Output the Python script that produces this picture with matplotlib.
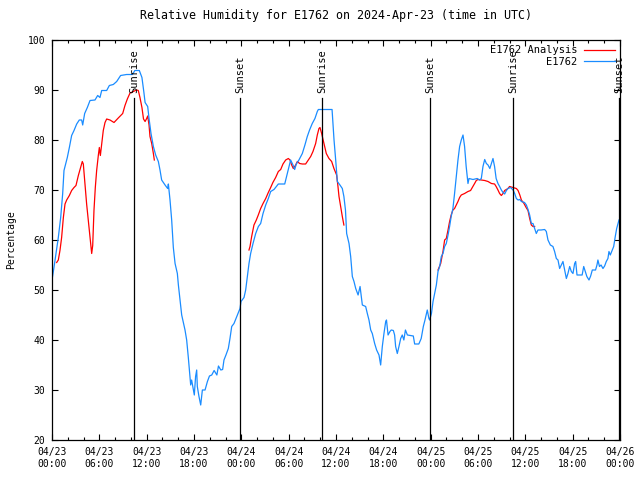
import numpy as np
import matplotlib
matplotlib.use("Agg")
import matplotlib.pyplot as plt

# hours since 2024-04-23 00:00 UTC
obs_hours = [
    0.0, 0.25, 0.5, 0.8, 1.1, 1.35, 1.52, 1.73, 1.94, 2.2, 2.49, 2.79, 3.13, 3.46, 3.76, 3.89,
    4.14, 4.48, 4.82, 5.45, 5.79, 6.08, 6.3, 6.93, 7.27, 7.77, 8.2, 8.7, 9.46, 10.2, 10.5, 11.07,
    11.4, 11.65, 11.8, 12.13, 12.3, 12.55, 12.85, 13.14, 13.48, 13.69, 13.9, 14.33, 14.66, 14.75,
    14.96, 15.17, 15.38, 15.6, 15.89, 16.02, 16.23, 16.44, 16.86, 17.07, 17.28, 17.49, 17.58, 17.7,
    17.92, 18.04, 18.2, 18.34, 18.42, 18.63, 18.85, 19.06, 19.4, 19.7, 19.96, 20.25, 20.55, 20.9,
    21.1, 21.4, 21.63, 21.8, 22.05, 22.35, 22.56, 22.78, 23.07, 23.32, 23.62, 23.83, 23.96, 24.34,
    24.55, 24.76, 24.97, 25.18, 25.48, 25.82, 26.16, 26.45, 26.75, 27.09, 27.42, 27.72, 28.14,
    28.69, 29.5, 29.83, 30.25, 30.55, 30.76, 30.97, 31.3, 31.73, 32.06, 32.36, 32.65, 32.99, 33.33,
    33.63, 33.76, 35.5, 35.75, 35.96, 36.17, 36.5, 36.8, 37.0, 37.2, 37.35, 37.65, 37.86, 38.07,
    38.28, 38.5, 38.8, 39.05, 39.2, 39.34, 39.76, 39.97, 40.18, 40.4, 40.6, 40.9, 41.15, 41.45,
    41.66, 41.87, 42.08, 42.3, 42.4, 42.6, 42.84, 43.0, 43.27, 43.43, 43.56, 43.77, 43.98, 44.2,
    44.4, 44.6, 44.8, 45.05, 45.8, 45.97, 46.5, 46.8, 47.07, 47.28, 47.57, 47.78, 47.87, 48.1,
    48.3, 48.5, 48.72, 48.93, 49.14, 49.35, 49.56, 49.77, 49.98, 50.2, 50.4, 50.6, 50.82, 51.03,
    51.25, 51.46, 51.67, 51.88, 52.1, 52.3, 52.5, 52.73, 52.86, 53.36, 53.9, 54.2, 54.42, 54.63,
    54.85, 55.06, 55.27, 55.5, 55.7, 55.9, 56.1, 56.3, 56.53, 56.74, 56.96, 57.17, 57.38, 57.6,
    57.8, 58.14, 58.44, 58.65, 58.86, 59.08, 59.3, 59.5, 59.9, 60.13, 60.34, 60.55, 60.76, 60.97,
    61.18, 61.39, 61.6, 62.0, 62.45, 62.66, 62.87, 63.17, 63.5, 63.71, 63.93, 64.14, 64.35, 64.56,
    64.77, 64.98, 65.2, 65.4, 65.62, 65.83, 66.04, 66.25, 66.38, 66.55, 67.2, 67.4, 67.6, 67.8,
    68.07, 68.28, 68.49, 68.9, 69.08, 69.2, 69.4, 69.6, 69.84, 70.05, 70.26, 70.47, 70.6, 70.77,
    71.02, 71.2, 71.4, 71.58, 71.75, 71.87,
]
obs_rh = [
    52, 54.5, 57.2, 60.5, 64.5, 69.2, 73.9, 75.2, 76.5, 78.5, 80.9, 81.9, 83.2, 84, 84, 83,
    85.3, 86.5, 87.9, 88, 88.9, 88.5, 89.9, 89.9, 90.9, 91.1, 91.7, 92.9, 93.1, 93.1, 93.9, 93.9,
    92.5, 89.5, 87.5, 86.7, 84.3, 81.3, 78.7, 77, 75.7, 74, 72, 71, 70.3, 71.2,
    68, 64, 58.5, 55.3, 53.3, 51, 48, 45, 42, 40, 36.5, 32.7, 31, 32,
    30, 29, 32.7, 34, 30.7, 28.7, 27, 30, 30, 31.7, 32.8, 33, 33.9, 33,
    34.8, 34, 34.1, 36, 37, 38.3, 40.3, 42.7, 43.3, 44.3, 45.5, 46.3, 47.7, 48.5,
    50, 52.7, 55.3, 57.3, 59.3, 61.3, 62.7, 63.3, 65.3, 67, 68.3, 69.7, 70.1,
    71.2, 71.2, 73.3, 76, 75, 74.1, 75.2, 76, 77.3, 79, 80.7, 82, 83.3, 84.3,
    85.7, 86.1, 86.1, 80, 76, 71.7, 71, 70.3, 68.7, 66, 61.3, 59.3, 56.7, 52.7,
    51.7, 50.3, 49, 50.7, 48.7, 47, 46.7, 45.3, 44, 42, 41.3, 39.3, 38, 37,
    35, 38.7, 41.3, 43.7, 44, 41, 41.7, 42, 41.9, 41, 38.7, 37.3, 38.7, 40.3,
    41, 40, 42, 41, 40.8, 39.2, 39.2, 40.3, 42.7, 44, 46, 44.3, 44, 45.3,
    47.7, 49.3, 51, 53.7, 54.7, 56.7, 57.3, 58.7, 59.3, 61, 62.7, 64.7, 66.3, 69.3,
    72.7, 76, 78.7, 80, 81, 78.7, 74.7, 71.3, 72.3, 72.1, 72.3, 72, 72.3, 74.7,
    76.1, 75.3, 75, 74.3, 75.3, 76.3, 74.7, 72.3, 71.3, 70.7, 70, 69.5, 69.2, 69.9,
    70.3, 70.5, 70, 69.3, 68.3, 68, 68.1, 67.7, 67.5, 67, 66.1, 65, 63.3, 63.3,
    62.3, 61.3, 62, 62, 62.1, 61.7, 60, 59, 58.7, 57.7, 56.3, 56, 54.3, 55,
    55.7, 54, 52.3, 53.3, 54.7, 53.7, 53.3, 55.3, 55.7, 53, 53, 54.7, 53.7, 52.7,
    52, 52.8, 54, 54, 55, 56, 54.7, 55, 54.3, 54.8, 55.7, 56.3, 57.7, 57,
    58, 58.7, 60.7, 62.3, 63.3, 64,
]

# analysis, three separate runs
ana1_hours = [0.59, 0.8, 1.01, 1.22, 1.44, 1.65, 1.86, 2.2, 2.49, 2.79, 3.04, 3.34, 3.63, 3.84,
              3.97, 4.18, 4.39, 4.6, 4.73, 4.9, 5.03, 5.16, 5.32, 5.49, 5.66, 5.87, 6.0, 6.13,
              6.3, 6.5, 6.72, 6.93, 7.35, 7.86, 8.4, 8.96, 9.25, 9.55, 9.89, 10.3, 10.73, 10.94,
              11.15, 11.4, 11.6, 11.8, 12.0, 12.13, 12.3, 12.42, 12.64, 12.85, 12.97]
ana1_rh = [55.5, 56, 57.9, 60.5, 64.5, 67.2, 68, 68.9, 69.9, 70.5, 70.9, 72.9, 74.5, 75.7,
           75.2, 71.2, 67.2, 63.9, 61.9, 59.2, 57.3, 58.9, 65.9, 70.5, 73.9, 76.9, 78.5, 76.9,
           79.2, 81.9, 83.5, 84.2, 84, 83.5, 84.4, 85.3, 86.9, 88.2, 89.4, 89.7, 90, 89.9,
           88.5, 86.5, 84.2, 83.7, 84.3, 84.8, 83, 80.7, 79.3, 77.3, 76]
ana2_hours = [24.97, 25.1, 25.31, 25.6, 25.9, 26.15, 26.45, 26.75, 27.09, 27.42, 27.72, 28.0,
              28.35, 28.69, 28.99, 29.28, 29.62, 29.96, 30.17, 30.38, 30.59, 30.89, 31.1, 31.39,
              31.73, 32.15, 32.49, 32.79, 33.08, 33.42, 33.63, 33.84, 33.97, 34.18, 34.47, 34.77,
              35.11, 35.45, 35.74, 36.08, 36.25, 36.38, 36.59, 36.8, 37.0]
ana2_rh = [58, 58.7, 60.7, 63, 64, 65, 66.3, 67.3, 68.3, 69.5, 70.5, 71.5,
           72.5, 73.7, 74.1, 75.2, 76, 76.3, 76, 75, 74.3, 75, 75.7, 75.3,
           75.2, 75.2, 76, 76.7, 77.7, 79.3, 81, 82.3, 82.5, 81.3, 79.3, 77.3,
           76.3, 75.7, 74.3, 73, 70.7, 68.7, 66.7, 64.7, 63]
ana3_hours = [48.93, 49.27, 49.56, 49.77, 49.98, 50.2, 50.4, 50.6, 50.82, 51.03, 51.25, 51.46,
              51.67, 51.88, 52.3, 52.73, 53.06, 53.36, 53.57, 53.78, 53.99, 54.42, 54.85, 55.27,
              55.7, 56.1, 56.3, 56.53, 56.74, 56.96, 57.17, 57.38, 57.8, 58.0, 58.44, 58.86,
              59.08, 59.3, 59.5, 59.83, 60.1, 60.34, 60.55, 60.76, 60.97, 61.18]
ana3_rh = [54, 55.3, 57.7, 60, 60.3, 62, 63.7, 65, 66, 66.3, 67, 67.7,
           68.5, 69, 69.3, 69.7, 69.9, 70.7, 71.3, 71.9, 72.1, 72, 71.9, 71.7,
           71.3, 71.2, 70.7, 70, 69.3, 68.9, 69.3, 69.9, 70.3, 70.7, 70.5, 70.3,
           69.9, 69, 68, 67.3, 66.5, 65.9, 64.3, 63, 62.7, 62.7]

sun_hours = [10.38, 23.83, 34.22, 47.91, 58.43, 71.85]
sun_names = ["Sunrise", "Sunset", "Sunrise", "Sunset", "Sunrise", "Sunset"]

tick_hours = list(range(0, 73, 6))
minor_hours = [h for h in range(0, 73, 2) if h % 6]
tick_labels = ["04/23\n00:00", "04/23\n06:00", "04/23\n12:00", "04/23\n18:00",
               "04/24\n00:00", "04/24\n06:00", "04/24\n12:00", "04/24\n18:00",
               "04/25\n00:00", "04/25\n06:00", "04/25\n12:00", "04/25\n18:00",
               "04/26\n00:00"]

plt.rcParams['font.family'] = ['DejaVu Sans Mono']
plt.rcParams['font.size'] = 7

fig = plt.figure(figsize=(6.4, 4.8), dpi=100)
ax = fig.add_axes([52 / 640, 40 / 480, 568 / 640, 400 / 480])

ana_x = ana1_hours + [np.nan] + ana2_hours + [np.nan] + ana3_hours
ana_y = ana1_rh + [np.nan] + ana2_rh + [np.nan] + ana3_rh
ax.plot(ana_x, ana_y, color='#ff0000', lw=0.9, label='E1762 Analysis')
ax.plot(obs_hours, obs_rh, color='#1a8cff', lw=0.9, label='E1762')

for h, name in zip(sun_hours, sun_names):
    ax.plot([h, h], [20, 88.4], color='black', lw=0.9)
    ax.text(h, 89.3, name, rotation=90, ha='center', va='bottom', fontsize=7.5)

ax.set_xlim(0, 72)
ax.set_ylim(20, 100)
ax.set_xticks(tick_hours)
ax.set_xticks(minor_hours, minor=True)
ax.set_xticklabels(tick_labels)
ax.set_yticks(range(20, 101, 10))
ax.tick_params(which='major', direction='in', top=True, right=True, length=4, width=0.8, pad=5)
ax.tick_params(which='minor', direction='in', top=True, right=True, length=2, width=0.8)
for s in ax.spines.values():
    s.set_linewidth(0.9)

ax.set_ylabel('Percentage', labelpad=8)
ax.set_title('Relative Humidity for E1762 on 2024-Apr-23 (time in UTC)', pad=15)

leg = ax.legend(loc='upper right', frameon=False, markerfirst=False, handlelength=3.0,
                borderaxespad=0.1, labelspacing=0.15, handletextpad=0.6, fontsize=7.5)

fig.savefig('out.png', dpi=100)
